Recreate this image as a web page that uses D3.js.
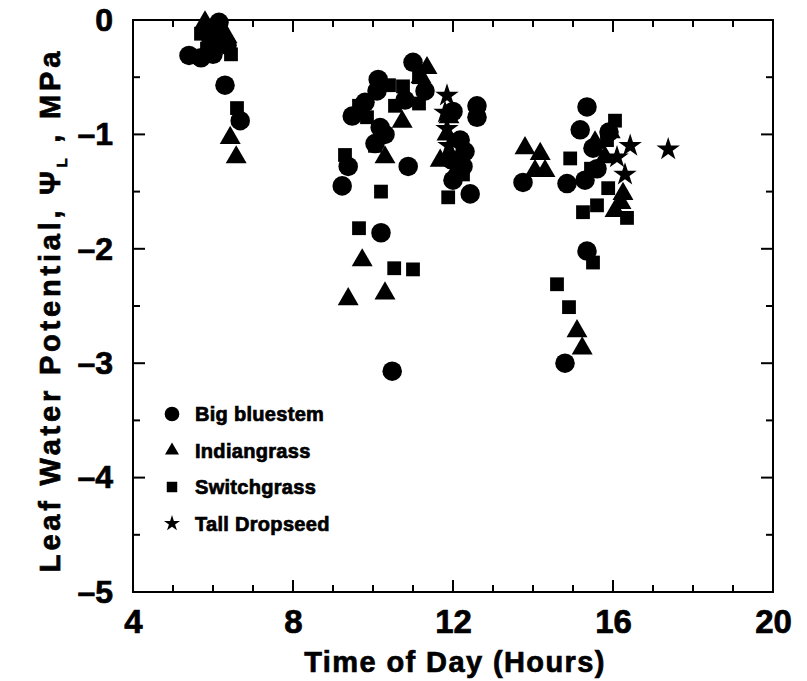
<!DOCTYPE html>
<html>
<head>
<meta charset="utf-8">
<script src="https://cdn.jsdelivr.net/npm/d3@7"></script>
<style>
  html, body { margin: 0; padding: 0; background: #fff; }
  svg { display: block; }
  text { font-family: "Liberation Sans", Arial, sans-serif; font-weight: bold; fill: #000; stroke: #000; stroke-width: 0.7px; }
</style>
</head>
<body>
<svg id="chart" width="807" height="681"></svg>
<script>
// Leaf water potential (MPa) against time of day (hours) for four prairie grasses
const bigBluestem = [
  [5.4,-0.31],[5.7,-0.33],[6.0,-0.3],[5.95,-0.17],[6.15,-0.02],[6.35,-0.22],[6.3,-0.57],[6.68,-0.88],
  [9.23,-1.45],[9.38,-1.28],[9.48,-0.84],[9.8,-0.72],[10.1,-0.62],[10.13,-0.52],[10.18,-0.94],[10.05,-1.08],
  [10.2,-1.86],[10.48,-3.07],[10.8,-0.7],[10.88,-1.28],[11.0,-0.37],[11.3,-0.62],[12.0,-0.8],[12.18,-1.05],
  [12.25,-1.28],[12.43,-1.52],[12.6,-0.75],[12.6,-0.85],[12.0,-1.4],[12.3,-1.15],[11.95,-1.22],[10.3,-1.0],
  [13.75,-1.42],[14.85,-1.43],[15.3,-1.4],[15.35,-0.76],[15.18,-0.96],[15.35,-2.02],[14.8,-3.0],[15.6,-1.3],
  [15.9,-0.98],[15.5,-1.12]
];
const indiangrass = [
  [5.8,-0.02],[6.2,-0.1],[6.35,-0.15],[6.43,-1.03],[6.58,-1.2],
  [9.38,-2.44],[9.73,-2.1],[10.3,-2.39],[10.3,-1.2],[10.73,-0.89],[11.35,-0.42],[11.68,-1.23],[11.85,-1.0],
  [11.9,-0.85],[12.1,-1.3],[11.2,-0.5],
  [13.8,-1.12],[14.18,-1.17],[14.3,-1.32],[14.05,-1.32],[15.55,-1.07],[16.25,-1.52],[16.05,-1.67],[15.93,-0.98],
  [15.1,-2.72],[15.23,-2.87],[15.8,-1.2],[16.2,-1.6]
];
const switchgrass = [
  [5.7,-0.12],[6.15,-0.2],[6.45,-0.3],[6.6,-0.77],[5.85,-0.25],
  [9.3,-1.18],[9.65,-1.82],[10.53,-2.17],[11.0,-2.18],[10.2,-1.5],[11.88,-1.55],[9.65,-0.75],[10.05,-1.1],
  [10.4,-0.57],[10.75,-0.58],[11.15,-0.73],[11.15,-0.5],[9.85,-0.85],[10.55,-0.75],[12.25,-1.35],
  [14.93,-1.21],[15.88,-1.47],[15.6,-1.62],[15.25,-1.68],[16.05,-0.88],[16.35,-1.73],[15.5,-2.12],[14.6,-2.31],
  [14.9,-2.51],[15.85,-1.05],[15.45,-1.3]
];
const tallDropseed = [
  [6.05,-0.1],
  [11.85,-0.66],[11.8,-0.81],[11.85,-0.95],[11.9,-1.1],
  [17.38,-1.13],[16.3,-1.35],[16.43,-1.1],[16.1,-1.2]
];
const xTicks = [4, 8, 12, 16, 20];
const yTicks = [0, -1, -2, -3, -4, -5];
const seriesNames = ["Big bluestem", "Indiangrass", "Switchgrass", "Tall Dropseed"];

const svg = d3.select("#chart");
const plot = { left: 133, right: 773, top: 20, bottom: 592 };

const x = d3.scaleLinear().domain([4, 20]).range([plot.left, plot.right]);
const y = d3.scaleLinear().domain([-5, 0]).range([plot.bottom, plot.top]);

const symbolTypes = [d3.symbolCircle, d3.symbolTriangle, d3.symbolSquare, d3.symbolStar];
const symbolSizes = [300, 190, 190, 170];
const legendSizes = [170, 85, 110, 80];
const series = [bigBluestem, indiangrass, switchgrass, tallDropseed];

// Frame
svg.append("rect")
  .attr("x", plot.left).attr("y", plot.top)
  .attr("width", plot.right - plot.left).attr("height", plot.bottom - plot.top)
  .attr("fill", "none").attr("stroke", "#000").attr("stroke-width", 2);

// Tick marks pointing inward on all four sides
const xMinor = d3.range(4, 20.01, 1);
const yMinor = d3.range(-5, 0.01, 0.5);
const ticks = svg.append("g").attr("stroke", "#000").attr("stroke-width", 2);
xMinor.forEach(v => {
  const len = (v % 4 === 0) ? 12 : 7;
  ticks.append("line").attr("x1", x(v)).attr("x2", x(v)).attr("y1", plot.bottom).attr("y2", plot.bottom - len);
  ticks.append("line").attr("x1", x(v)).attr("x2", x(v)).attr("y1", plot.top).attr("y2", plot.top + len);
});
yMinor.forEach(v => {
  const len = Number.isInteger(v) ? 12 : 7;
  ticks.append("line").attr("x1", plot.left).attr("x2", plot.left + len).attr("y1", y(v)).attr("y2", y(v));
  ticks.append("line").attr("x1", plot.right).attr("x2", plot.right - len).attr("y1", y(v)).attr("y2", y(v));
});

// Axis labels via d3 axes, with their own tick lines hidden
const xAxis = svg.append("g")
  .attr("transform", `translate(0,${plot.bottom})`)
  .call(d3.axisBottom(x).tickValues(xTicks).tickSize(0).tickPadding(13).tickFormat(d3.format("d")));
xAxis.select(".domain").remove();
xAxis.selectAll("text").attr("font-size", 33).attr("font-family", "Liberation Sans, Arial, sans-serif")
  .attr("font-weight", "bold").attr("dy", "0.85em").attr("stroke", "#000").attr("stroke-width", 0.9);

const yAxis = svg.append("g")
  .attr("transform", `translate(${plot.left},0)`)
  .call(d3.axisLeft(y).tickValues(yTicks).tickSize(0).tickPadding(20)
    .tickFormat(d => d === 0 ? "0" : "\u2013" + Math.abs(d)));
yAxis.select(".domain").remove();
yAxis.selectAll("text").attr("font-size", 32).attr("font-family", "Liberation Sans, Arial, sans-serif")
  .attr("font-weight", "bold").attr("stroke", "#000").attr("stroke-width", 0.9);

// Axis titles
svg.append("text")
  .attr("x", 455).attr("y", 672)
  .attr("text-anchor", "middle").attr("font-size", 29).attr("letter-spacing", 1.4)
  .text("Time of Day (Hours)");

const yTitle = svg.append("text")
  .attr("transform", `translate(60,310) rotate(-90)`)
  .attr("text-anchor", "middle").attr("font-size", 29).attr("letter-spacing", 3.8);
yTitle.append("tspan").text("Leaf Water Potential, \u03A8");
yTitle.append("tspan").attr("font-size", 15).attr("dy", 7).text("L");
yTitle.append("tspan").attr("dy", -7).text(" , MPa");

// Data points
series.forEach((data, i) => {
  svg.append("g").selectAll("path")
    .data(data)
    .join("path")
    .attr("transform", d => `translate(${x(d[0])},${y(d[1])})`)
    .attr("d", d3.symbol().type(symbolTypes[i]).size(symbolSizes[i]))
    .attr("fill", "#000");
});

// Legend
const legend = svg.append("g").attr("transform", "translate(172,414)");
seriesNames.forEach((name, i) => {
  const row = legend.append("g").attr("transform", `translate(0,${i * 36.5})`);
  row.append("path")
    .attr("d", d3.symbol().type(symbolTypes[i]).size(legendSizes[i]))
    .attr("fill", "#000");
  row.append("text").attr("x", 23).attr("y", 7).attr("font-size", 20).attr("letter-spacing", 0.3).text(name);
});
</script>
</body>
</html>
